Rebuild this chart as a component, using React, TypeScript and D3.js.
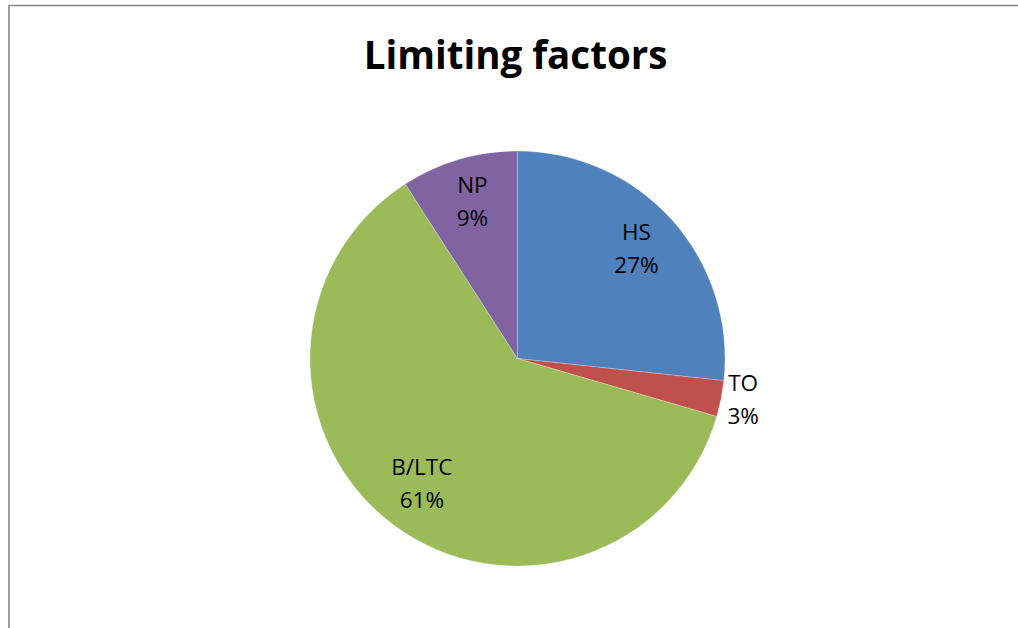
import React from "react";
import * as d3 from "d3";

const categories = ["HS", "TO", "B/LTC", "NP"];
const values = [26.7, 2.8, 61.4, 9.1];
const colors = ["#4F81BD", "#C0504D", "#9BBB59", "#8064A2"];
const title = "Limiting factors";

const W = 1018;
const H = 628;

export default function App() {
  const cx = 517.5;
  const cy = 358.5;
  const R = 207.5;
  const total = d3.sum(values);
  const pie = d3.pie<number>().sort(null).value((d) => d)(values);
  const arc = d3.arc<d3.PieArcDatum<number>>().innerRadius(0).outerRadius(R);
  const inLabel = d3.arc<d3.PieArcDatum<number>>().innerRadius(160).outerRadius(160);
  const outLabel = d3.arc<d3.PieArcDatum<number>>().innerRadius(230).outerRadius(230);
  const font = "'Open Sans', Lato, sans-serif";

  return (
    <svg
      width={W}
      height={H}
      style={{ position: "absolute", left: 0, top: 0, background: "#fff" }}
    >
      <path d={`M9,${H + 2} L9,5.5 L${W + 2},5.5`} fill="none" stroke="#868686" strokeWidth={1.6} />
      <text
        x={515.5}
        y={69}
        textAnchor="middle"
        fontFamily={font}
        fontWeight={700}
        fontSize={38.5}
        fill="#000"
      >
        {title}
      </text>
      <g transform={`translate(${cx},${cy})`}>
        {pie.map((p, i) => (
          <path key={categories[i]} d={arc(p) || ""} fill={colors[i]} stroke="#fff" strokeOpacity={0.35} strokeWidth={0.7} />
        ))}
        {pie.map((p, i) => {
          const pct = (values[i] / total) * 100;
          const [lx, ly] = pct < 5 ? outLabel.centroid(p) : inLabel.centroid(p);
          return (
            <text
              key={"l" + categories[i]}
              textAnchor="middle"
              fontFamily={font}
              fontSize={22.5}
              fill="#000"
            >
              <tspan x={lx} y={ly - 12}>{categories[i]}</tspan>
              <tspan x={lx} y={ly + 21}>{`${Math.round(pct)}%`}</tspan>
            </text>
          );
        })}
      </g>
    </svg>
  );
}
